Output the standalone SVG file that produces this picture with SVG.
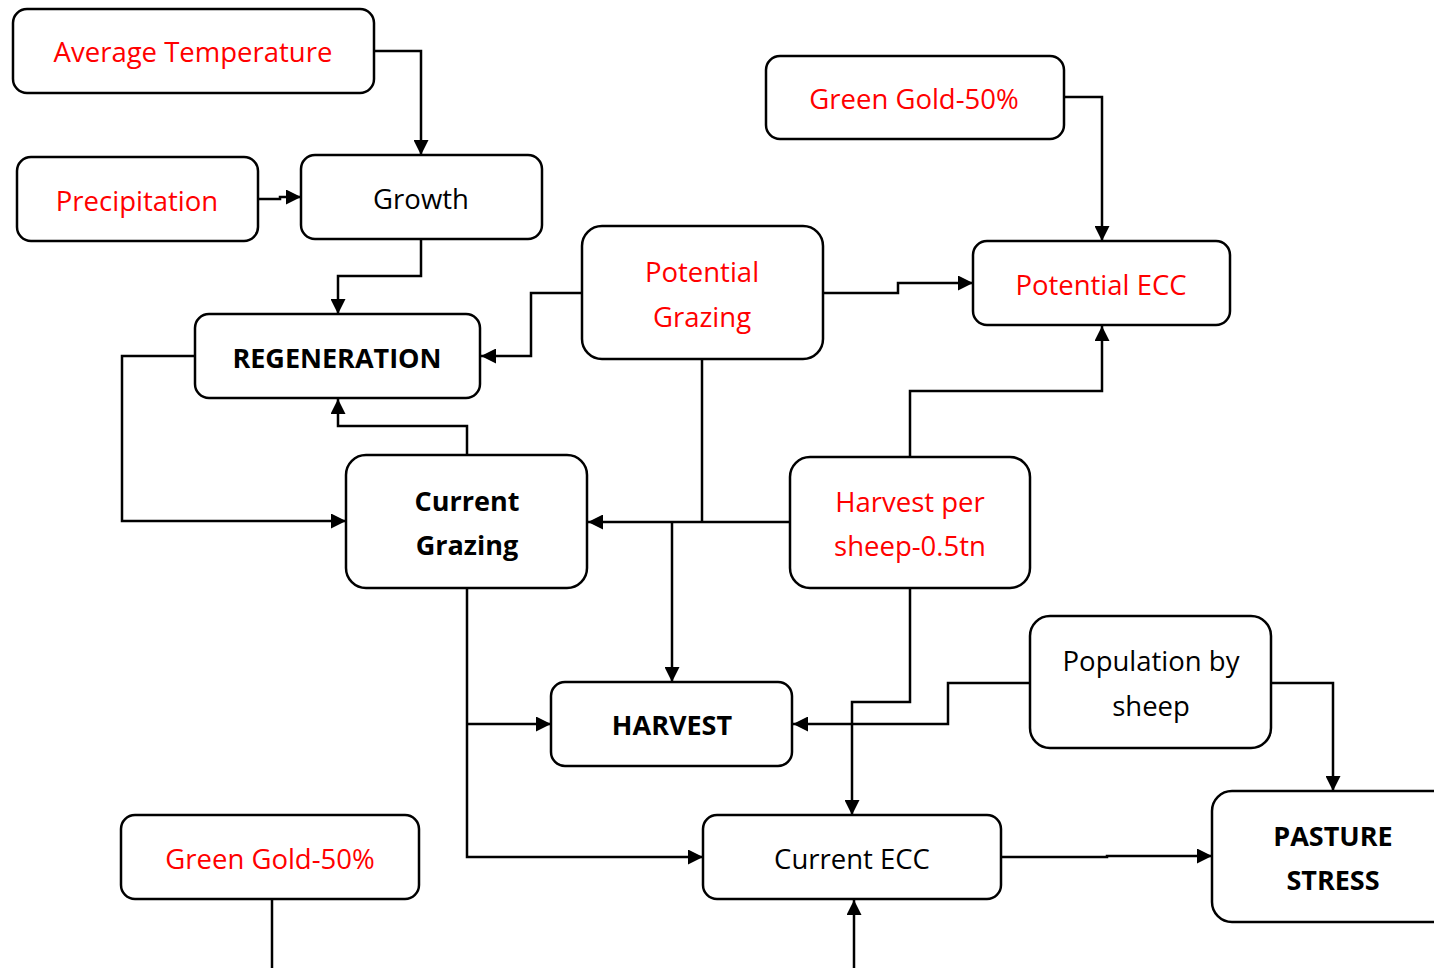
<svg xmlns="http://www.w3.org/2000/svg" width="1434" height="968" viewBox="0 0 1434 968">
<style>
.box{fill:#fff;stroke:#000;stroke-width:2.5}
.t{font-family:"Open Sans","Liberation Sans",sans-serif;font-size:27.5px;text-anchor:middle;dominant-baseline:central}
.r{fill:#ff0000}
.k{fill:#000}
.b{font-weight:bold;font-size:27px}
.c{fill:none;stroke:#000;stroke-width:2.5}
</style>
<defs>
<marker id="ah" markerUnits="userSpaceOnUse" markerWidth="15" markerHeight="15" viewBox="0 0 15 15" refX="15" refY="7.5" orient="auto">
<path d="M0,0 L15,7.5 L0,15 Z" fill="#000"/>
</marker>
</defs>
<g id="connectors">
<path class="c" d="M374,51 H421 V155" marker-end="url(#ah)"/>
<path class="c" d="M258,199 H280 V197 H301" marker-end="url(#ah)"/>
<path class="c" d="M421,239 V276 H338 V314" marker-end="url(#ah)"/>
<path class="c" d="M582,293 H531 V356 H481" marker-end="url(#ah)"/>
<path class="c" d="M823,293 H898 V283 H973" marker-end="url(#ah)"/>
<path class="c" d="M1064,97 H1102 V241" marker-end="url(#ah)"/>
<path class="c" d="M910,457 V391 H1102 V326" marker-end="url(#ah)"/>
<path class="c" d="M790,522 H588" marker-end="url(#ah)"/>
<path class="c" d="M702,359 V522"/>
<path class="c" d="M672,522 V682" marker-end="url(#ah)"/>
<path class="c" d="M467,455 V426 H338 V399" marker-end="url(#ah)"/>
<path class="c" d="M195,356 H122 V521 H346" marker-end="url(#ah)"/>
<path class="c" d="M467,588 V857 H703" marker-end="url(#ah)"/>
<path class="c" d="M467,724 H551" marker-end="url(#ah)"/>
<path class="c" d="M910,588 V702 H852 V815" marker-end="url(#ah)"/>
<path class="c" d="M1030,683 H948 V724 H793" marker-end="url(#ah)"/>
<path class="c" d="M1271,683 H1333 V791" marker-end="url(#ah)"/>
<path class="c" d="M1001,857 H1107 V856 H1212" marker-end="url(#ah)"/>
<path class="c" d="M854,968 V900" marker-end="url(#ah)"/>
<path class="c" d="M272,899 V968"/>
</g>
<g id="avg-temp"><rect class="box" x="13" y="9" width="361" height="84" rx="14"/><text class="t r" x="193" y="51">Average Temperature</text></g>
<g id="precipitation"><rect class="box" x="17" y="157" width="241" height="84" rx="14"/><text class="t r" x="137" y="200">Precipitation</text></g>
<g id="growth"><rect class="box" x="301" y="155" width="241" height="84" rx="14"/><text class="t k" x="421" y="198">Growth</text></g>
<g id="regeneration"><rect class="box" x="195" y="314" width="285" height="84" rx="14"/><text class="t k b" x="337" y="357">REGENERATION</text></g>
<g id="potential-grazing"><rect class="box" x="582" y="226" width="241" height="133" rx="20"/><text class="t r" x="702" y="271">Potential</text><text class="t r" x="702" y="316">Grazing</text></g>
<g id="green-gold-top"><rect class="box" x="766" y="56" width="298" height="83" rx="14"/><text class="t r" x="914" y="98">Green Gold-50%</text></g>
<g id="potential-ecc"><rect class="box" x="973" y="241" width="257" height="84" rx="14"/><text class="t r" x="1101" y="284">Potential ECC</text></g>
<g id="current-grazing"><rect class="box" x="346" y="455" width="241" height="133" rx="20"/><text class="t k b" x="467" y="500">Current</text><text class="t k b" x="467" y="544">Grazing</text></g>
<g id="harvest-per-sheep"><rect class="box" x="790" y="457" width="240" height="131" rx="20"/><text class="t r" x="910" y="501">Harvest per</text><text class="t r" x="910" y="545">sheep-0.5tn</text></g>
<g id="harvest"><rect class="box" x="551" y="682" width="241" height="84" rx="14"/><text class="t k b" x="672" y="724">HARVEST</text></g>
<g id="population"><rect class="box" x="1030" y="616" width="241" height="132" rx="20"/><text class="t k" x="1151" y="660">Population by</text><text class="t k" x="1151" y="705">sheep</text></g>
<g id="current-ecc"><rect class="box" x="703" y="815" width="298" height="84" rx="14"/><text class="t k" x="852" y="858">Current ECC</text></g>
<g id="pasture-stress"><rect class="box" x="1212" y="791" width="240" height="131" rx="20"/><text class="t k b" x="1333" y="835">PASTURE</text><text class="t k b" x="1333" y="879">STRESS</text></g>
<g id="green-gold-bottom"><rect class="box" x="121" y="815" width="298" height="84" rx="14"/><text class="t r" x="270" y="858">Green Gold-50%</text></g>
</svg>
